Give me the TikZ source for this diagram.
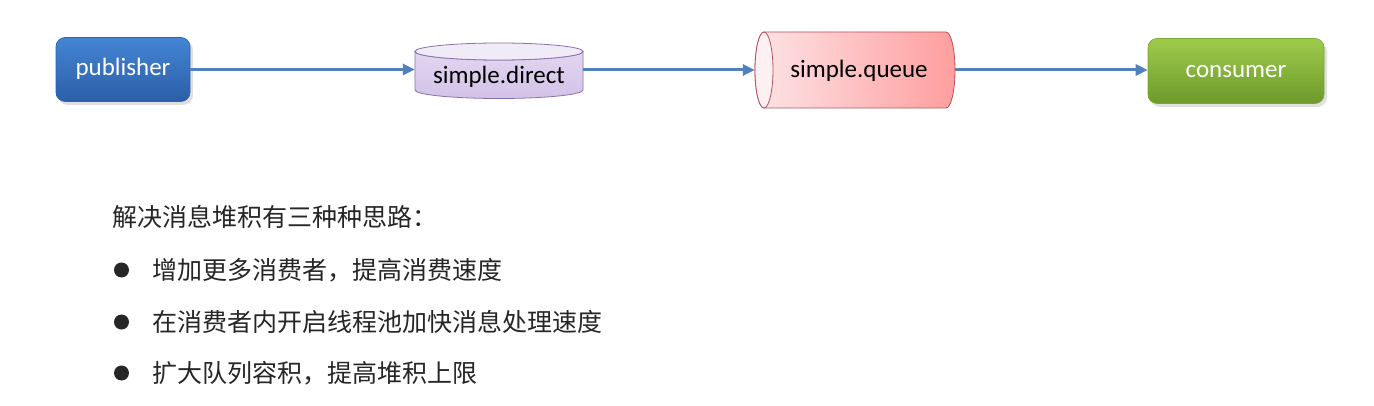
\documentclass[tikz,border=0pt]{standalone}
\usepackage{fontspec}
\setmainfont{Carlito}
\newfontfamily\cjk{Noto Sans CJK SC}
\usetikzlibrary{arrows.meta}
\definecolor{arrowblue}{HTML}{4F81BD}
\definecolor{pubtop}{HTML}{4485D3}
\definecolor{pubbot}{HTML}{2B5EA8}
\definecolor{pubborder}{HTML}{2E64AE}
\definecolor{contop}{HTML}{9FCB4C}
\definecolor{conbot}{HTML}{6C9A2A}
\definecolor{conborder}{HTML}{7AA636}
\definecolor{dirtop}{HTML}{F1EBF8}
\definecolor{dirbody}{HTML}{E2D6F0}
\definecolor{dirbot}{HTML}{D3C2E8}
\definecolor{dirborder}{HTML}{8C72AC}
\definecolor{qleft}{HTML}{FDE4E6}
\definecolor{qright}{HTML}{FF9E9E}
\definecolor{qend}{HTML}{FDF0F2}
\definecolor{qborder}{HTML}{B8505A}
\definecolor{txt}{HTML}{262626}
\newcommand{\lowered}[2]{\raisebox{-#1}[0pt][0pt]{#2}}
\begin{document}
\begin{tikzpicture}[x=1pt,y=-1pt,
  conn/.style={draw=arrowblue, line width=3pt, -{Triangle[length=12pt,width=11pt]}},
  boxstyle/.style={rounded corners=9pt, inner sep=0pt, text=white,
     font=\fontsize{25}{28}\selectfont},
  shadowstyle/.style={fill=black, opacity=0.12, rounded corners=10pt},
  hole/.style={inner sep=0pt, font=\fontsize{25}{28}\selectfont, text=black},
  cjktext/.style={anchor=west, inner sep=0pt, text=txt, font=\cjk\fontsize{25}{30}\selectfont},
  bulletdot/.style={fill=txt}]
\fill[white] (0,0) rectangle (1374,406);
\useasboundingbox (0,0) rectangle (1374,406);

% shadows
\fill[shadowstyle] (58,40) rectangle (193,105);
\fill[shadowstyle] (1150,42) rectangle (1327,107);

% publisher
\node[boxstyle, minimum width=134pt, minimum height=64pt, top color=pubtop, bottom color=pubbot, draw=pubborder, line width=0.6pt] (pub) at (123,69.5) {\lowered{6.5pt}{publisher}};

% simple.direct cylinder
\path[top color=dirbody, bottom color=dirbot, draw=dirborder, line width=0.8pt]
  (415,51.5) -- (415,90) arc[start angle=180, end angle=0, x radius=84, y radius=8.5]
  -- (583,51.5) arc[start angle=0, end angle=180, x radius=84, y radius=8.5] -- cycle;
\draw[dirborder, fill=dirtop, line width=0.8pt] (499,51.5) ellipse[x radius=84, y radius=8.5];
\node[hole, minimum width=168pt, minimum height=55pt] (direct) at (499,70) {\lowered{14pt}{simple.direct}};

% simple.queue cylinder
\path[left color=qleft, right color=qright, draw=qborder, line width=0.8pt]
  (764,32) -- (946,32) arc[start angle=-90, end angle=90, x radius=9, y radius=38]
  -- (764,108) arc[start angle=90, end angle=270, x radius=9, y radius=38] -- cycle;
\draw[qborder, fill=qend, line width=0.8pt] (764,70) ellipse[x radius=9, y radius=38];
\node[hole, minimum width=200pt, minimum height=76pt] (queue) at (855,70) {\kern8pt\lowered{8pt}{simple.queue}};

% consumer
\node[boxstyle, minimum width=176pt, minimum height=65pt, top color=contop, bottom color=conbot, draw=conborder, line width=0.6pt] (cons) at (1236,71) {\lowered{7pt}{consumer}};

% connectors
\draw[conn] (pub.east) -- (pub.east -| direct.west);
\draw[conn] (direct.east) -- (direct.east -| queue.west);
\draw[conn] (queue.east) -- (queue.east -| cons.west);

% text
\node[cjktext] (head) at (112,217) {解决消息堆积有三种种思路：};
\fill[bulletdot] (121.5,270) circle (7.5);
\node[cjktext] (b1) at (152,270) {增加更多消费者，提高消费速度};
\fill[bulletdot] (121.5,322) circle (7.5);
\node[cjktext] (b2) at (152,322) {在消费者内开启线程池加快消息处理速度};
\fill[bulletdot] (121.5,373) circle (7.5);
\node[cjktext] (b3) at (152,373) {扩大队列容积，提高堆积上限};
\end{tikzpicture}
\end{document}
